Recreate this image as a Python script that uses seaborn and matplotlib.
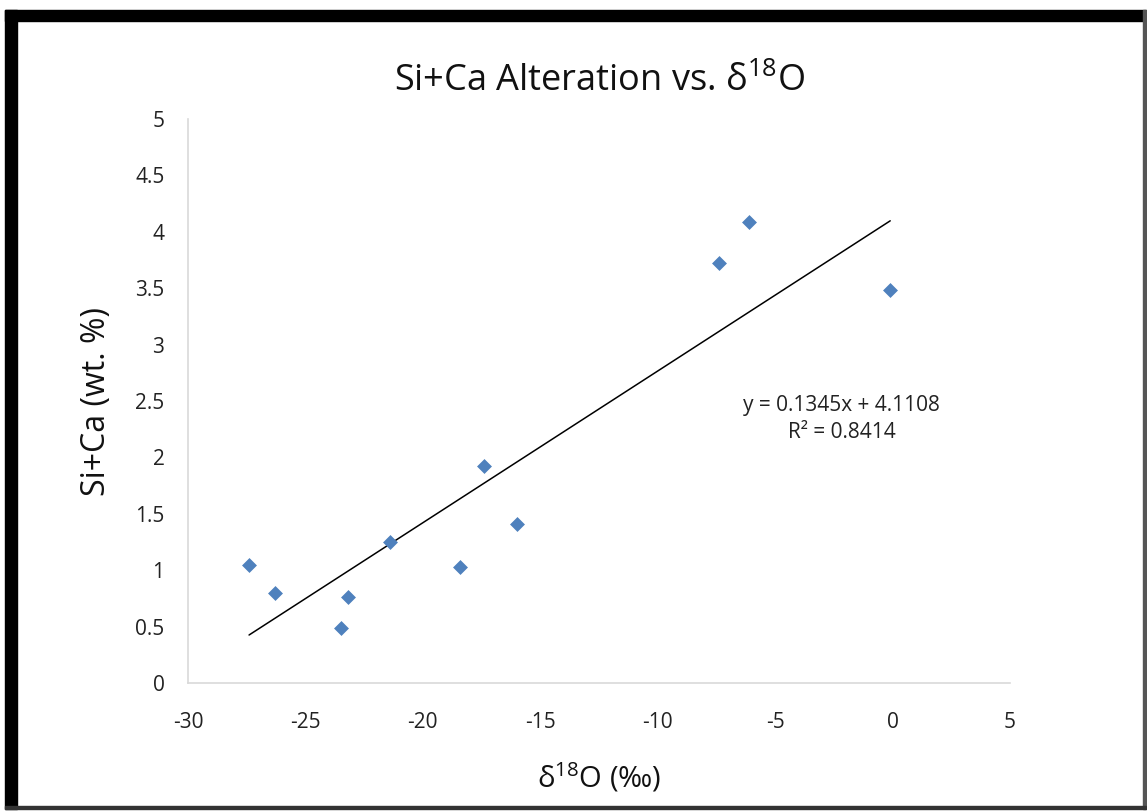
import numpy as np
import pandas as pd
import matplotlib
matplotlib.use("Agg")
import matplotlib.pyplot as plt
import seaborn as sns
from matplotlib.patches import Rectangle

# ============================================================
# DATEN
# ============================================================
d18o = [-27.4, -26.3, -23.5, -23.2, -21.4, -18.4, -17.4, -16.0, -7.4, -6.1, -0.1]
si_ca = [1.05, 0.80, 0.49, 0.76, 1.25, 1.03, 1.92, 1.41, 3.72, 4.09, 3.48]

trend_slope = 0.1345
trend_intercept = 4.1108
r_squared = 0.8414

x_ticks = [-30, -25, -20, -15, -10, -5, 0, 5]
y_ticks = [0, 0.5, 1, 1.5, 2, 2.5, 3, 3.5, 4, 4.5, 5]
y_ticklabels = ["0", "0.5", "1", "1.5", "2", "2.5", "3", "3.5", "4", "4.5", "5"]

df = pd.DataFrame({"d18o": d18o, "si_ca": si_ca})

# Trendlinie nur über den Datenbereich (wie Excel)
trend_x = np.array([min(d18o), max(d18o)])
trend_df = pd.DataFrame({"x": trend_x, "y": trend_slope * trend_x + trend_intercept})

# ============================================================
# PLOT
# ============================================================
sns.set_style("white")
plt.rcParams["font.family"] = ["Open Sans", "DejaVu Sans"]
plt.rcParams["mathtext.default"] = "regular"

fig = plt.figure(figsize=(11.47, 8.11), dpi=100)
ax = fig.add_axes([188 / 1147, 1 - 683 / 811, (1010 - 188) / 1147, (683 - 119) / 811])

sns.lineplot(data=trend_df, x="x", y="y", ax=ax, color="black", linewidth=1.1)
sns.scatterplot(data=df, x="d18o", y="si_ca", ax=ax, marker="D", s=50,
                color="#4F81BD", edgecolor="#4F81BD", linewidth=0.5, zorder=3)

ax.set_xlim(-30, 5)
ax.set_ylim(0, 5)
ax.set_xticks(x_ticks)
ax.set_xticklabels([str(t) for t in x_ticks])
ax.set_yticks(y_ticks)
ax.set_yticklabels(y_ticklabels)

grey = "#D9D9D9"
for side in ["top", "right"]:
    ax.spines[side].set_visible(False)
for side in ["left", "bottom"]:
    ax.spines[side].set_color(grey)
    ax.spines[side].set_linewidth(1.2)
ax.tick_params(axis="both", direction="out", length=8, width=1.2, color=grey,
               labelsize=15, labelcolor="#222222")
ax.tick_params(axis="x", pad=13)
ax.tick_params(axis="y", pad=9)

ax.set_title("Si+Ca Alteration vs. δ$^{18}$O", fontsize=26, pad=20, color="#111111")
ax.set_xlabel("δ$^{18}$O (‰)", fontsize=21, labelpad=20, color="#111111")
ax.set_ylabel("Si+Ca (wt. %)", fontsize=23, labelpad=16, color="#111111")

ax.text(-2.16, 2.34, f"y = {trend_slope}x + {trend_intercept}\nR² = {r_squared}",
        ha="center", va="center", fontsize=15, linespacing=1.35, color="#222222")

# Rahmen um das Bild (dick oben/links, dünn unten/rechts)
fig.patches.append(Rectangle((5 / 1147, 1 - 21 / 811), 1141 / 1147, 11 / 811,
                             transform=fig.transFigure, color="black", zorder=10))
fig.patches.append(Rectangle((5 / 1147, 1 - 809 / 811), 12 / 1147, 799 / 811,
                             transform=fig.transFigure, color="black", zorder=10))
fig.patches.append(Rectangle((1143 / 1147, 1 - 809 / 811), 3 / 1147, 799 / 811,
                             transform=fig.transFigure, color="#555555", zorder=10))
fig.patches.append(Rectangle((5 / 1147, 1 - 809 / 811), 1141 / 1147, 3 / 811,
                             transform=fig.transFigure, color="#333333", zorder=10))

plt.savefig("out.png", dpi=100)
